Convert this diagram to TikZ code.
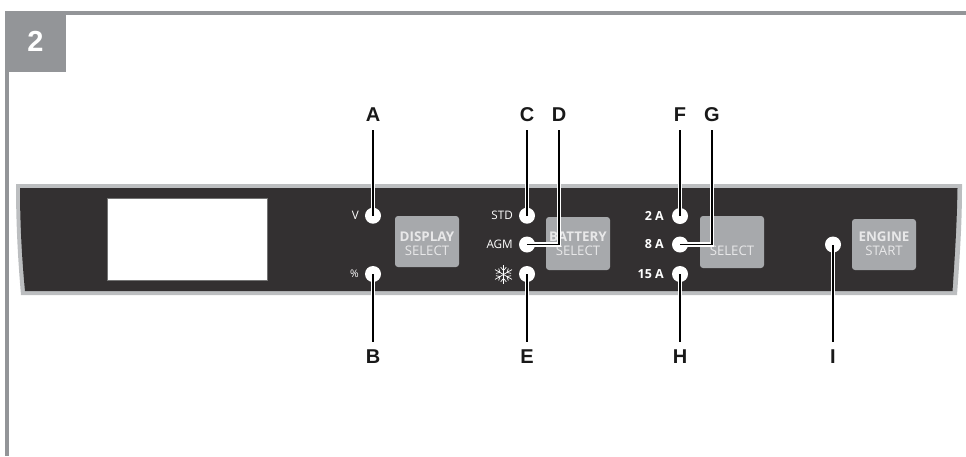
\documentclass[tikz,border=0pt]{standalone}
\usepackage{fontspec}
\setmainfont{Liberation Sans}
\newfontfamily\panelfont{Open Sans}
\usetikzlibrary{calc}
\definecolor{rule}{HTML}{939598}
\definecolor{rim}{HTML}{BCBEC0}
\definecolor{face}{HTML}{333031}
\definecolor{btn}{HTML}{A7A9AC}
\definecolor{btntext}{HTML}{E8E8E9}
\tikzset{
  letter/.style={font=\fontsize{20}{20}\selectfont\bfseries,text=black!90,inner sep=0pt,minimum height=30pt,minimum width=16pt},
  led/.style={circle,fill=white,inner sep=0pt,minimum size=16pt},
  paneltext/.style={font=\panelfont\fontsize{11.7}{11.7}\selectfont,text=white,inner sep=0pt,anchor=east},
  amptext/.style={font=\panelfont\bfseries\fontsize{12.5}{12.5}\selectfont,text=white,inner sep=0pt,anchor=east},
  btnbox/.style={fill=btn,rounded corners=3pt,inner sep=0pt},
  btnbold/.style={font=\panelfont\bfseries\fontsize{13.4}{13.4}\selectfont,text=btntext,inner sep=0pt},
  btnreg/.style={font=\panelfont\fontsize{13.2}{13.2}\selectfont,text=btntext,inner sep=0pt},
  leader/.style={draw=black,line width=1.3pt,preaction={draw=white,line width=4.2pt}},
}
\begin{document}
\begin{tikzpicture}[x=1pt,y=-1pt]
\useasboundingbox (0,0) rectangle (966,456);
% frame
\fill[rule] (5,11) rectangle (966,15);
\fill[rule] (5,11) rectangle (9,456);
\node[fill=rule,minimum size=61pt,inner sep=0pt,text=white,font=\fontsize{29}{29}\selectfont\bfseries] (tab) at (35.5,41.5) {2};
% panel
\fill[rim] (16,184) -- (962,184) .. controls (962,215) and (961,240) .. (957,295) -- (21,295) .. controls (18,260) and (16,225) .. (16,184) -- cycle;
\fill[face] (20,188) -- (957.5,188) .. controls (957,215) and (956,240) .. (952.5,291) -- (25,291) .. controls (22,260) and (20,225) .. (20,188) -- cycle;
\draw[fill=white,draw=black!55,line width=.5pt] (107,198) rectangle (267,280);
% buttons
\fill[btnbox] (395,216) rectangle (459,267);
\fill[btnbox] (546,217) rectangle (610,270);
\fill[btnbox] (700,216) rectangle (764,268);
\fill[btnbox] (852,219) rectangle (916,270);
\node[btnbold] (b1a) at (427,237) {DISPLAY};
\node[btnreg] (b1b) at (427,250.7) {SELECT};
\node[btnbold] (b2a) at (578,237) {BATTERY};
\node[btnreg] (b2b) at (578,250.7) {SELECT};
\node[btnreg] (b3b) at (732,250.7) {SELECT};
\node[btnbold] (b4a) at (884,237) {ENGINE};
\node[btnreg] (b4b) at (884,250.7) {START};
% panel texts
\node[paneltext] (tv) at (359,215.5) {V};
\node[paneltext,font=\panelfont\fontsize{10.5}{10.5}\selectfont] (tp) at (359,274) {\%};
\node[paneltext] (tstd) at (513,215.7) {STD};
\node[paneltext] (tagm) at (513,244) {AGM};
\node[amptext] (t2) at (664,216) {2 A};
\node[amptext] (t8) at (664,244.5) {8 A};
\node[amptext] (t15) at (664,274) {15 A};
% snowflake
\begin{scope}[shift={(503.5,274.5)},draw=white,line width=.7pt]
\foreach \a in {30,90,150,210,270,330}{
  \draw[rotate=\a] (0,0) -- (9.8,0);
  \draw[rotate=\a] (4,0) -- (7.2,2.8);
  \draw[rotate=\a] (4,0) -- (7.2,-2.8);
}
\end{scope}
% leds
\node[led] (A0) at (373,215.7) {};
\node[led] (B0) at (373,274) {};
\node[led] (C0) at (527,215.7) {};
\node[led] (D0) at (527,244.5) {};
\node[led] (E0) at (527,274) {};
\node[led] (F0) at (680,216) {};
\node[led] (G0) at (680,244.5) {};
\node[led] (H0) at (680,274) {};
\node[led] (I0) at (833,244.5) {};
% letters
\node[letter] (A) at (373,115) {A};
\node[letter] (C) at (527,115) {C};
\node[letter] (D) at (559,115) {D};
\node[letter] (F) at (680,115) {F};
\node[letter] (G) at (712,115) {G};
\node[letter] (B) at (373,357) {B};
\node[letter] (E) at (527,357) {E};
\node[letter] (H) at (680,357) {H};
\node[letter] (I) at (833,357) {I};
% leaders
\path[leader] (A.south) -- (A0.center);
\path[leader] (C.south) -- (C0.center);
\path[leader] (D.south) |- (D0.center);
\path[leader] (F.south) -- (F0.center);
\path[leader] (G.south) |- (G0.center);
\path[leader] (B.north) -- (B0.center);
\path[leader] (E.north) -- (E0.center);
\path[leader] (H.north) -- (H0.center);
\path[leader] (I.north) -- (I0.center);
\end{tikzpicture}
\end{document}
